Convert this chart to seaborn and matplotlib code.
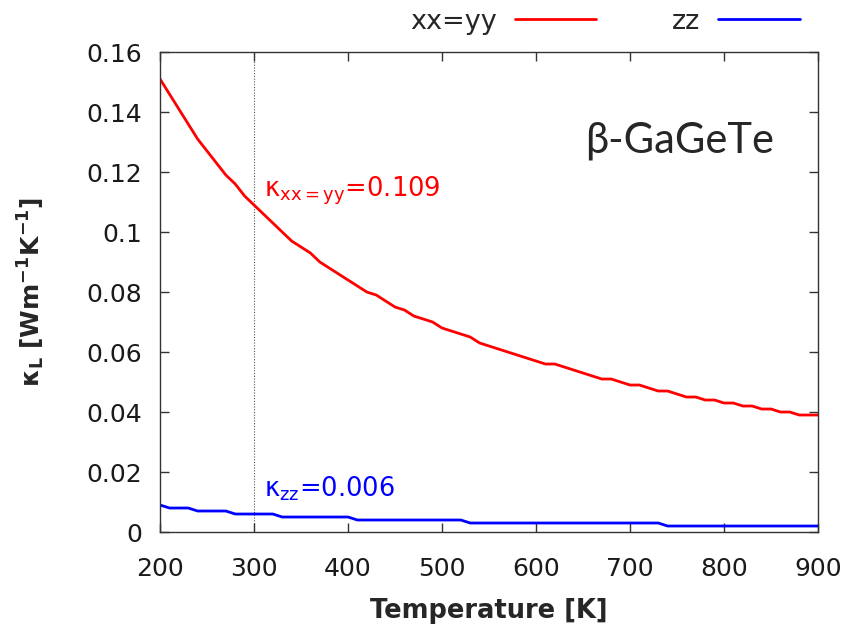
import numpy as np
import pandas as pd
import matplotlib
matplotlib.use("Agg")
import matplotlib.pyplot as plt
from matplotlib.lines import Line2D
import seaborn as sns

# Lattice thermal conductivity of beta-GaGeTe, sampled every 10 K
temperature = list(range(200, 901, 10))
kappa_xx_yy = [
    0.151, 0.146, 0.141, 0.136, 0.131, 0.127, 0.123, 0.119, 0.116, 0.112,
    0.109, 0.106, 0.103, 0.100, 0.097, 0.095, 0.093, 0.090, 0.088, 0.086,
    0.084, 0.082, 0.080, 0.079, 0.077, 0.075, 0.074, 0.072, 0.071, 0.070,
    0.068, 0.067, 0.066, 0.065, 0.063, 0.062, 0.061, 0.060, 0.059, 0.058,
    0.057, 0.056, 0.056, 0.055, 0.054, 0.053, 0.052, 0.051, 0.051, 0.050,
    0.049, 0.049, 0.048, 0.047, 0.047, 0.046, 0.045, 0.045, 0.044, 0.044,
    0.043, 0.043, 0.042, 0.042, 0.041, 0.041, 0.040, 0.040, 0.039, 0.039,
    0.039,
]
kappa_zz = [
    0.009, 0.008, 0.008, 0.008, 0.007, 0.007, 0.007, 0.007, 0.006, 0.006,
    0.006, 0.006, 0.006, 0.005, 0.005, 0.005, 0.005, 0.005, 0.005, 0.005,
    0.005, 0.004, 0.004, 0.004, 0.004, 0.004, 0.004, 0.004, 0.004, 0.004,
    0.004, 0.004, 0.004, 0.003, 0.003, 0.003, 0.003, 0.003, 0.003, 0.003,
    0.003, 0.003, 0.003, 0.003, 0.003, 0.003, 0.003, 0.003, 0.003, 0.003,
    0.003, 0.003, 0.003, 0.003, 0.002, 0.002, 0.002, 0.002, 0.002, 0.002,
    0.002, 0.002, 0.002, 0.002, 0.002, 0.002, 0.002, 0.002, 0.002, 0.002,
    0.002,
]
series_names = ["xx=yy", "zz"]
series_colors = ["#ff0000", "#0000ff"]
room_temperature = 300
kappa_room_xx_yy = 0.109
kappa_room_zz = 0.006
x_ticks = [200, 300, 400, 500, 600, 700, 800, 900]
y_ticks = [0, 0.02, 0.04, 0.06, 0.08, 0.1, 0.12, 0.14, 0.16]
y_ticklabels = ["0", "0.02", "0.04", "0.06", "0.08", "0.1", "0.12", "0.14", "0.16"]

sns.set_theme(style="ticks")
plt.rcParams["font.family"] = ["DejaVu Sans"]
plt.rcParams["mathtext.fontset"] = "dejavusans"

df = pd.concat([
    pd.DataFrame({"T": temperature, "kappa": kappa_xx_yy, "dir": series_names[0]}),
    pd.DataFrame({"T": temperature, "kappa": kappa_zz, "dir": series_names[1]}),
])

fig = plt.figure(figsize=(8.49, 6.36), dpi=100)
ax = fig.add_axes([0.1885, 0.1635, 0.775, 0.7547])

sns.lineplot(data=df, x="T", y="kappa", hue="dir",
             palette=dict(zip(series_names, series_colors)),
             linewidth=2.0, ax=ax, legend=False)

ax.axvline(room_temperature, color="#555555", linestyle=(0, (1, 1.5)),
           linewidth=0.8, zorder=0)

ax.set_xlim(200, 900)
ax.set_ylim(0, 0.16)
ax.set_xticks(x_ticks)
ax.set_xticklabels([str(t) for t in x_ticks])
ax.set_yticks(y_ticks)
ax.set_yticklabels(y_ticklabels)
ax.tick_params(direction="in", length=6.5, width=1, color="#333333",
               top=True, right=True, labelsize=18, labelcolor="#1a1a1a")
ax.tick_params(axis="x", pad=18)
ax.tick_params(axis="y", pad=13)
for s in ax.spines.values():
    s.set_color("#333333")
    s.set_linewidth(1.0)

ax.set_xlabel("Temperature [K]", fontsize=18.5, fontweight="bold", labelpad=12)
ax.set_ylabel(r"κ$_{\mathbf{L}}$ [Wm$^{\mathbf{-1}}$K$^{\mathbf{-1}}$]",
              fontsize=18, fontweight="bold", labelpad=28)

ax.text(311, 0.1117, r"κ$_{\mathrm{xx{=}yy}}$=" + f"{kappa_room_xx_yy:.3f}",
        color=series_colors[0], fontsize=18.5, ha="left", va="baseline")
ax.text(311, 0.0117, r"κ$_{\mathrm{zz}}$=" + f"{kappa_room_zz:.3f}",
        color=series_colors[1], fontsize=18.5, ha="left", va="baseline")

ax.text(0.790, 0.815, "β-GaGeTe", transform=ax.transAxes,
        fontsize=30, family=["Lato", "DejaVu Sans"], ha="center", va="center")

handles = [Line2D([], [], color=c, linewidth=2.0) for c in series_colors]
fig.legend(handles, series_names, loc="center", ncol=2, frameon=False,
           markerfirst=False, bbox_to_anchor=(0.7126, 0.966),
           handlelength=3.0, handletextpad=0.66, columnspacing=2.8,
           fontsize=19.5)

fig.savefig("out.png", dpi=100)
